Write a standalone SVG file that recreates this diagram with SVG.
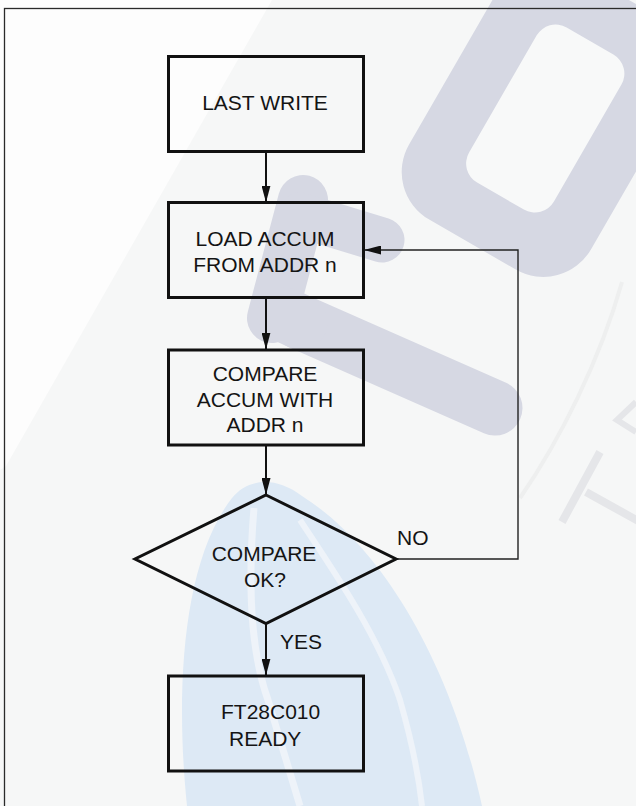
<svg xmlns="http://www.w3.org/2000/svg" width="636" height="806" viewBox="0 0 636 806">
  <defs>
    <style>
      .box { fill: none; stroke: #111; stroke-width: 3; }
      .lbl { font-family: "Liberation Sans", Arial, sans-serif; font-size: 21px; fill: #141414; }
      .mid { text-anchor: middle; }
      .flow { fill: none; stroke: #111; stroke-width: 2; }
      .loop { fill: none; stroke: #222; stroke-width: 1.4; }
      .wm { fill: #d6d8e3; }
      .wmf { fill: none; stroke: #d6d8e3; stroke-linecap: round; }
    </style>
    <marker id="arr" markerWidth="17" markerHeight="9" refX="17" refY="4.5" orient="auto" markerUnits="userSpaceOnUse">
      <path d="M0,0 L17,4.5 L0,9 Z" fill="#111"/>
    </marker>
  </defs>

  <!-- background / watermark -->
  <g id="watermark">
    <rect x="0" y="0" width="636" height="806" fill="#f6f7f7"/>
    <polygon points="0,0 272,0 6,466 0,470" fill="#fdfdfd"/>
    <!-- blue crescent -->
    <path d="M187,806 C176,700 180,565 232,498 C248,478 276,476 302,496 C380,545 450,660 482,806 Z" fill="#dde9f5"/>
    <path d="M254,508 C248,580 250,650 268,700 C280,740 292,780 300,806" fill="none" stroke="#eef3f9" stroke-width="7"/>
    <path d="M300,520 C340,580 380,640 400,700 C410,735 418,770 422,806" fill="none" stroke="#eef3f9" stroke-width="6"/>
    <!-- gray ring -->
    <g transform="translate(545,119) rotate(30)">
      <rect x="-105" y="-145" width="210" height="290" rx="55" class="wm"/>
      <rect x="-49" y="-90" width="98" height="179" rx="22" fill="#f8f9f9"/>
    </g>
    <!-- gray F-like shape -->
    <path d="M303,200 L272,318" class="wmf" stroke-width="50"/>
    <path d="M300,322 L495,408" class="wmf" stroke-width="55"/>
    <path d="M285,315 L300,322" class="wmf" stroke-width="55"/>
    <path d="M300,215 L382,240" class="wmf" stroke-width="45"/>
    <!-- faint letters at right -->
    <path d="M600,452 L562,522 M586,492 L640,522" fill="none" stroke="#e5e6e9" stroke-width="8"/>
    <path d="M622,282 C600,360 560,440 520,498" fill="none" stroke="#eeefef" stroke-width="4"/>
    <path d="M636,402 L617,420 L636,432" fill="none" stroke="#e5e6e9" stroke-width="6"/>
  </g>

  <!-- frame -->
  <rect x="4.5" y="8.5" width="700" height="900" fill="none" stroke="#2a2a2a" stroke-width="1.3"/>

  <!-- connectors -->
  <g id="connectors">
    <line x1="266" y1="151.5" x2="266" y2="202.5" class="flow" marker-end="url(#arr)"/>
    <line x1="266" y1="297.5" x2="266" y2="349.5" class="flow" marker-end="url(#arr)"/>
    <line x1="266" y1="445" x2="266" y2="495" class="flow" marker-end="url(#arr)"/>
    <line x1="266" y1="623.5" x2="266" y2="675.5" class="flow" marker-end="url(#arr)"/>
    <polyline points="396,559 518,559 518,250 364,250" class="loop" marker-end="url(#arr)"/>
    <text class="lbl" x="397" y="544.5">NO</text>
    <text class="lbl" x="280" y="648.5">YES</text>
  </g>

  <g id="last-write">
    <rect x="168.5" y="56.5" width="195" height="95" class="box"/>
    <text class="lbl mid" x="265" y="110">LAST WRITE</text>
  </g>

  <g id="load-accum">
    <rect x="168.5" y="202.5" width="195" height="95" class="box"/>
    <text class="lbl mid" x="265" y="245.7">LOAD ACCUM</text>
    <text class="lbl mid" x="265" y="271.7">FROM ADDR n</text>
  </g>

  <g id="compare-accum">
    <rect x="168.5" y="350" width="195" height="95" class="box"/>
    <text class="lbl mid" x="265" y="381">COMPARE</text>
    <text class="lbl mid" x="265" y="406.5">ACCUM WITH</text>
    <text class="lbl mid" x="265" y="432">ADDR n</text>
  </g>

  <g id="compare-ok">
    <polygon points="266,495 396,559 266,623.5 135,559" class="box" stroke-linejoin="miter"/>
    <text class="lbl mid" x="264" y="561">COMPARE</text>
    <text class="lbl mid" x="265" y="586.7">OK?</text>
  </g>

  <g id="ready">
    <rect x="168.5" y="676" width="195" height="95" class="box"/>
    <text class="lbl" x="221" y="719.3">FT28C010</text>
    <text class="lbl" x="229" y="745.7">READY</text>
  </g>
</svg>
